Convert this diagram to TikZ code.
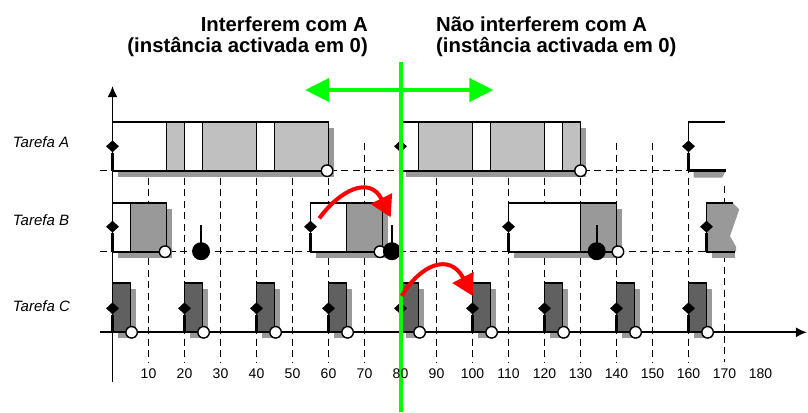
\documentclass[tikz,border=0pt]{standalone}
\usepackage{fontspec}
\setmainfont{Liberation Sans}
\usetikzlibrary{arrows.meta,shapes.geometric}
\definecolor{runA}{HTML}{C0C0C0}
\definecolor{runB}{HTML}{999999}
\definecolor{runC}{HTML}{606060}
\definecolor{shadowgray}{HTML}{999999}
\definecolor{limegreen}{HTML}{00FF00}
\definecolor{pureRed}{HTML}{FF0000}
\tikzset{
  gridline/.style={line width=0.9pt, dash pattern=on 7pt off 4.5pt},
  boxline/.style={line width=1.9pt},
  actline/.style={line width=3pt},
  release/.style={diamond, fill=black, inner sep=0pt, minimum width=13pt, minimum height=12pt},
  finish/.style={circle, draw=black, fill=white, line width=1.4pt, inner sep=0pt, minimum size=11.5pt},
  blocked/.style={circle, fill=black, inner sep=0pt, minimum size=18pt},
  stem/.style={line width=1.8pt},
  axisline/.style={line width=1.8pt, -{Latex[length=11pt,width=10pt]}},
  ticklabel/.style={font=\fontsize{14}{16}\selectfont, anchor=base, inner sep=0pt},
  rowlabel/.style={font=\fontsize{15}{18}\selectfont\itshape, anchor=base west, inner sep=0pt},
  title/.style={font=\fontsize{20.3}{24}\selectfont\bfseries, inner sep=0pt},
  span/.style={line width=4pt, draw=limegreen},
  hop/.style={line width=4pt, draw=pureRed, -{Triangle[length=21pt,width=23pt]}},
}
\begin{document}
% time axis: 1 unit = 3.6pt, t=0 at 112.5pt; vertical axis in pt, downwards
\begin{tikzpicture}[x=3.6pt, y=-1pt]
\useasboundingbox (-31.25,0) rectangle (193.19,412);

% dashed time grid and task baselines
\foreach \t in {10,20,...,160} \draw[gridline] (\t,143) -- (\t,362);
\draw[gridline] (170,186) -- (170,362);
\draw[gridline] (-3.5,170.7) -- (160,170.7);
\draw[gridline] (-3.5,251.7) -- (165,251.7);

% drop shadows of the job boxes
\begin{scope}[shift={(5pt,-6pt)}]
  \fill[shadowgray] (0,122.3) rectangle (60,170.7);
  \fill[shadowgray] (80,122.3) rectangle (130,170.7);
  \fill[shadowgray] (0,203.3) rectangle (15,251.7);
  \fill[shadowgray] (55,203.3) rectangle (75,251.7);
  \fill[shadowgray] (110,203.3) rectangle (140,251.7);
  \foreach \t in {0,20,...,160} \fill[shadowgray] (\t,283.3) rectangle (\t+5,332.3);
\end{scope}

% task A jobs
\draw[boxline, fill=white] (0,122.3) rectangle (60,170.7);
\foreach \a/\b in {15/20,25/40,45/60} \draw[boxline, fill=runA] (\a,122.3) rectangle (\b,170.7);
\draw[boxline, fill=white] (80,122.3) rectangle (130,170.7);
\foreach \a/\b in {85/100,105/120,125/130} \draw[boxline, fill=runA] (\a,122.3) rectangle (\b,170.7);
\fill[shadowgray] (161.4,170.7) -- (170.4,170.7) -- (169.3,177.7) -- (161.4,177.7) -- cycle;
\draw[boxline] (170.2,122.3) -- (160,122.3) -- (160,170.7);
\draw[line width=2.5pt] (160,170.7) -- (170.3,170.7);

% task B jobs
\draw[boxline, fill=white] (0,203.3) rectangle (15,251.7);
\draw[boxline, fill=runB] (5,203.3) rectangle (15,251.7);
\draw[boxline, fill=white] (55,203.3) rectangle (75,251.7);
\draw[boxline, fill=runB] (65,203.3) rectangle (75,251.7);
\draw[boxline, fill=white] (110,203.3) rectangle (140,251.7);
\draw[boxline, fill=runB] (130,203.3) rectangle (140,251.7);
\fill[shadowgray] (166.4,251.7) rectangle (172.9,257.7);
\fill[runB] (165,203.3) -- (172.44,203.3) -- (174.1,209.3) -- (171.53,236) -- (173.2,246.7) -- (173.2,251.7) -- (165,251.7) -- cycle;
\draw[boxline] (172.44,203.3) -- (165,203.3) -- (165,251.7) -- (172.9,251.7);

% task C jobs
\foreach \t in {0,20,...,160} \draw[boxline, fill=runC] (\t,283.3) rectangle (\t+5,332.3);

% axes
\coordinate (yBot) at (0,382);
\coordinate (yTop) at (0,86);
\coordinate (xLeft) at (-3.5,332.3);
\coordinate (xRight) at (192.9,332.3);
\draw[axisline] (yBot) -- (yTop);
\draw[axisline] (xLeft) -- (xRight);

% releases
\foreach \t [count=\i] in {0,80,160} {
  \coordinate (relA\i) at (\t,170.7);
  \node[release] (dA\i) at (\t,146.3) {};
  \draw[actline] (relA\i) -- (dA\i);
}
\foreach \t [count=\i] in {0,55,110,165} {
  \coordinate (relB\i) at (\t,251.7);
  \node[release] (dB\i) at (\t,226.7) {};
  \draw[actline] (relB\i) -- (dB\i);
}
\foreach \t [count=\i] in {0,20,...,160} {
  \coordinate (relC\i) at (\t,332.3);
  \node[release] (dC\i) at (\t,308.3) {};
  \draw[actline] (relC\i) -- (dC\i);
}

% completions
\node[finish] (fA1) at (59.6,170.7) {};
\node[finish] (fA2) at (130,170.7) {};
\node[finish] (fB1) at (14.6,251.7) {};
\node[finish] (fB2) at (74.3,251.7) {};
\node[finish] (fB3) at (140.4,251.7) {};
\foreach \t [count=\i] in {0,20,...,160} \node[finish] (fC\i) at (\t+5.3,332.3) {};

% blocking points of task B
\foreach \t [count=\i] in {24.6,77.6,134.5} {
  \node[blocked] (kB\i) at (\t,251.2) {};
  \coordinate (sB\i) at (\t,225);
  \draw[stem] (kB\i.center) -- (sB\i);
}

% separation line and range arrow
\coordinate (gTop) at (80,62);
\coordinate (gBot) at (80,412);
\draw[span] (gTop) -- (gBot);
\coordinate (gL) at (53.5,90);
\coordinate (gR) at (105.8,90);
\draw[span, {Triangle[length=24pt,width=23pt]}-{Triangle[length=24pt,width=23pt]}] (gL) -- (gR);

% preemption arrows
\coordinate (h1s) at (57.44,218.3);
\coordinate (h1e) at (77.28,217.3);
\draw[hop] (h1s) .. controls (63.19,190) and (71.44,175.3) .. (h1e);
\coordinate (h2s) at (80.33,296);
\coordinate (h2e) at (100.06,296);
\draw[hop] (h2s) .. controls (85.42,265) and (93.64,252) .. (h2e);

% texts
\node[title, anchor=base east] (ttlL1) at (70.97,31) {Interferem com A};
\node[title, anchor=base east] (ttlL2) at (70.97,52) {(instância activada em 0)};
\node[title, anchor=base west] (ttlR1) at (89.86,31) {Não interferem com A};
\node[title, anchor=base west] (ttlR2) at (89.86,52) {(instância activada em 0)};

\node[rowlabel] (labA) at (-27.72,147.5) {Tarefa A};
\node[rowlabel] (labB) at (-27.72,225) {Tarefa B};
\node[rowlabel] (labC) at (-27.72,311.5) {Tarefa C};

\foreach \t in {10,20,...,180} \node[ticklabel] (tk\t) at (\t,378.3) {\t};
\end{tikzpicture}
\end{document}
